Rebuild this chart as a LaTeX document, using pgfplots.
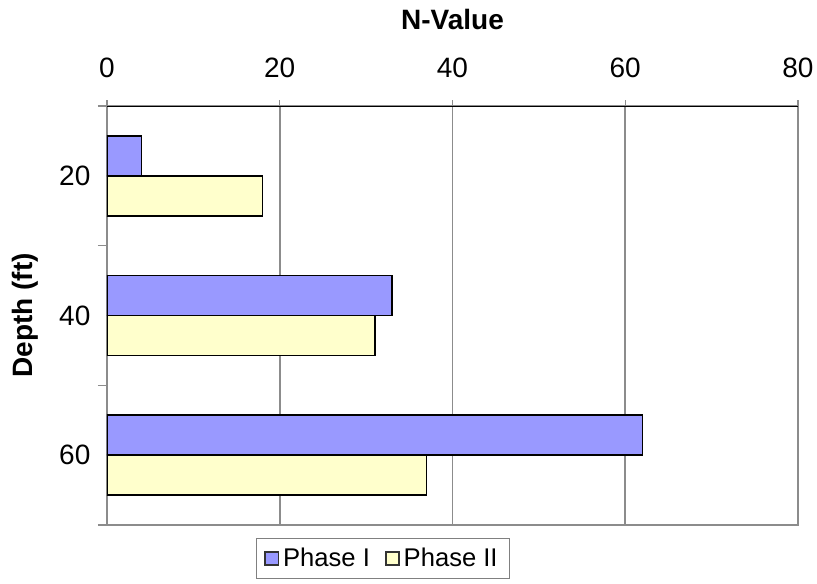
\documentclass[border=0pt]{standalone}
\usepackage{pgfplots}
\pgfplotsset{compat=1.18}
\usepackage{fontspec}
\setmainfont{Liberation Sans}
\definecolor{phaseone}{HTML}{9999FF}
\definecolor{phasetwo}{HTML}{FFFFCC}
\definecolor{gridgray}{HTML}{8C8C8C}
\begin{document}
\begin{tikzpicture}
\path[use as bounding box] (-53.5bp,-29.5bp) rectangle (355bp,262.5bp);
\begin{axis}[
  at={(0,0)}, anchor=south west,
  scale only axis, width=345.5bp, height=209.5bp,
  xbar, bar width=20bp,
  xmin=0, xmax=80, xtick={0,20,40,60,80},
  ymin=0.5, ymax=3.5, ytick={1,2,3}, yticklabels={60,40,20},
  minor ytick={0.5,1.5,2.5,3.5},
  xtick pos=right, xticklabel pos=right,
  ytick pos=left,
  tick align=outside,
  major tick length=3bp, minor tick length=4.5bp,
  tick style={gridgray, line width=0.7bp},
  major y tick style={draw=none},
  axis line style={gridgray, line width=0.8bp},
  xmajorgrids, major grid style={gridgray, line width=0.8bp},
  /pgf/number format/assume math mode=true,
  ticklabel style={font=\fontsize{14bp}{16bp}\selectfont},
  xticklabel style={anchor=base, yshift=11.5bp},
  yticklabel style={anchor=east, xshift=-1.8bp},
  xlabel={N-Value}, ylabel={Depth (ft)},
  label style={font=\fontsize{14bp}{16bp}\selectfont\bfseries},
  xlabel style={at={(rel axis cs:0.5,1.2053)}, anchor=center},
  ylabel style={at={(rel axis cs:-0.1187,0.5)}, anchor=center},
  legend columns=2,
  legend style={at={(0.3994,0)}, anchor=north, yshift=-6.5bp,
    draw=gray, line width=0.6bp, inner xsep=4bp, inner ysep=2.5bp,
    font=\fontsize{12.8bp}{15bp}\selectfont,
    /tikz/every even column/.append style={column sep=5.5bp}},
]
\addplot[xbar, bar shift=10bp, fill=phaseone, draw=black, line width=0.8bp,
  legend image code/.code={\draw[fill=phaseone, draw=black!80, line width=0.8bp] (0bp,-3.3bp) rectangle (6.6bp,3.3bp);}]
  coordinates {(4,3) (33,2) (62,1)};
\addlegendentry{Phase I}
\addplot[xbar, bar shift=-10bp, fill=phasetwo, draw=black, line width=0.8bp,
  legend image code/.code={\draw[fill=phasetwo, draw=black!80, line width=0.8bp] (0bp,-3.3bp) rectangle (6.6bp,3.3bp);}]
  coordinates {(18,3) (31,2) (37,1)};
\addlegendentry{Phase II}
\draw[black, line width=1bp] (rel axis cs:0,1) -- (rel axis cs:1,1);
\end{axis}
\end{tikzpicture}
\end{document}
